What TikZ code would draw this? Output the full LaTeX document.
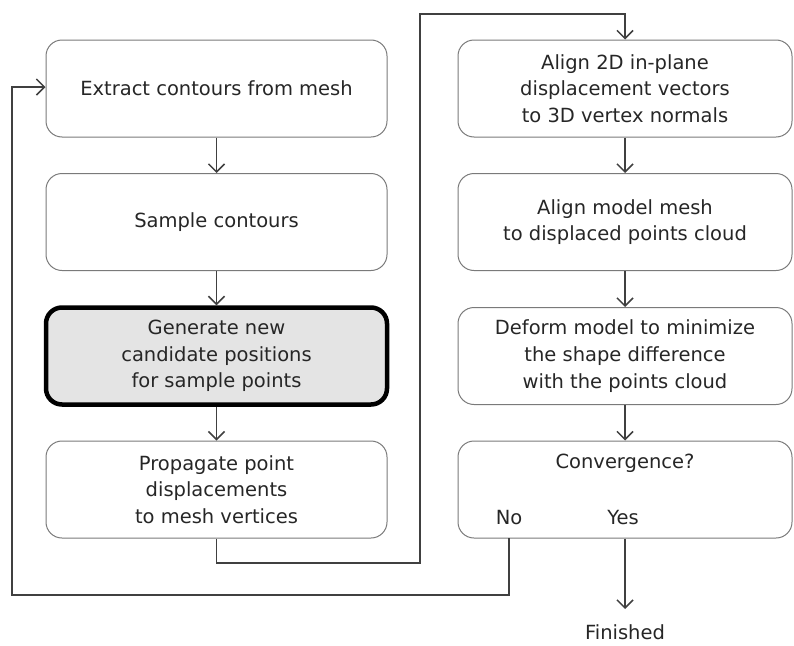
\documentclass[tikz,border=0pt]{standalone}
\usepackage{fontspec}
\setmainfont{DejaVu Sans}
\usetikzlibrary{arrows.meta}
\definecolor{boxgray}{HTML}{7A7A7A}
\definecolor{linegray}{HTML}{404040}
\definecolor{fillgray}{HTML}{E4E4E4}
\begin{document}
\begin{tikzpicture}[x=1pt,y=1pt,
  txt/.style={font=\fontsize{19.5}{26.7}\selectfont, text=black!85},
  box/.style={txt, draw=boxgray, line width=1pt, rounded corners=16pt,
    minimum height=97pt, align=center, inner sep=0pt},
  lbox/.style={box, minimum width=341pt},
  rbox/.style={box, minimum width=334pt},
  hbox/.style={lbox, draw=black, line width=4.5pt, fill=fillgray},
  conn/.style={draw=linegray, line width=1.5pt},
  arr/.style={conn, -{Straight Barb[length=8pt,width=16pt,line width=1.5pt]}}
]
\useasboundingbox (0,0) rectangle (794,-645);
% left column
\node[lbox] (L1) at (216.5,-88.5) {Extract contours from mesh};
\node[lbox] (L2) at (216.5,-222) {Sample contours};
\node[hbox] (L3) at (216.5,-356) {Generate new\\candidate positions\\for sample points};
\node[lbox] (L4) at (216.5,-489.5) {Propagate point\\displacements\\to mesh vertices};
% right column
\node[rbox] (R1) at (625,-88.5) {Align 2D in-plane\\displacement vectors\\to 3D vertex normals};
\node[rbox] (R2) at (625,-222) {Align model mesh\\to displaced points cloud};
\node[rbox] (R3) at (625,-356) {Deform model to minimize\\the shape difference\\with the points cloud};
\node[rbox] (R4) at (625,-489.5) {};
\node[txt] (conv) at (625,-463) {Convergence?};
\node[txt] (no) at (509,-518) {No};
\node[txt] (yes) at (623,-518) {Yes};
\node[txt, anchor=base, inner sep=0pt] (fin) at (625,-639) {Finished};
% coordinates
\coordinate (a1) at (216.5,-563);
\coordinate (a2) at (420,-563);
\coordinate (a3) at (420,-14);
\coordinate (a4) at (625,-14);
\coordinate (b0) at (509,-538);
\coordinate (b1) at (509,-595);
\coordinate (b2) at (12,-595);
\coordinate (b3) at (12,-87);
\coordinate (f1) at (625,-609);
% vertical arrows
\draw[arr] (L1) -- (L2);
\draw[arr] (L2) -- (L3);
\draw[arr] (L3) -- (L4);
\draw[arr] (R1) -- (R2);
\draw[arr] (R2) -- (R3);
\draw[arr] (R3) -- (R4);
\draw[arr] (R4.south) -- (f1);
% cross connector
\draw[arr] (L4.south) -- (a1) -- (a2) -- (a3) -- (a4) -- (R1.north);
% loop back
\draw[arr] (b0) -- (b1) -- (b2) -- (b3) -- (b3 -| L1.west);
\end{tikzpicture}
\end{document}
